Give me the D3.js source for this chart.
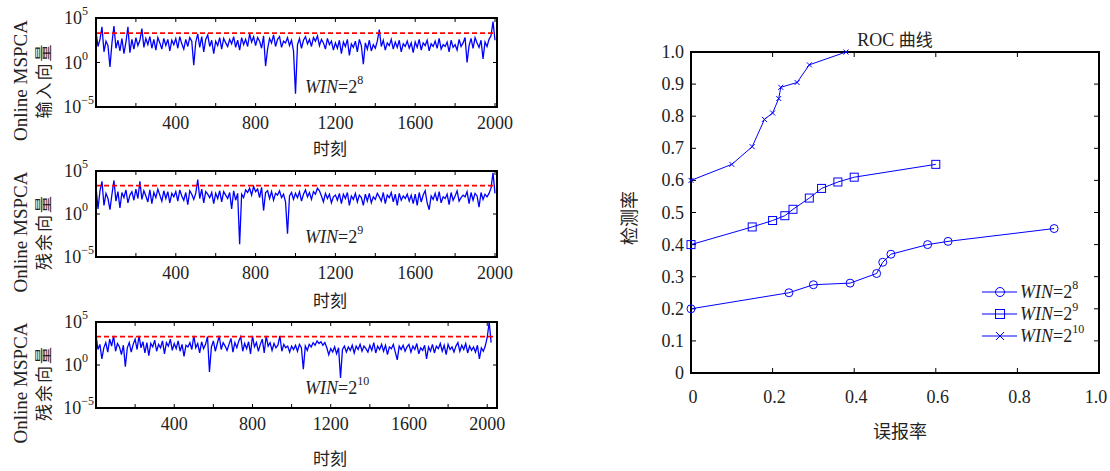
<!DOCTYPE html>
<html><head><meta charset="utf-8">
<script src="https://cdn.jsdelivr.net/npm/d3@7"></script>
<style>
body{margin:0;background:#fff;}
svg text{font-family:"Liberation Serif","Times New Roman","DejaVu Serif",serif;fill:#222;}
svg text.cjk, svg tspan.cjk{font-family:"Noto Sans CJK SC",sans-serif;}
</style></head><body>
<svg id="c" width="1110" height="471" font-family="Liberation Serif, serif"></svg>
<script>
// log10 values, one sample per 10 time steps
const input8 = [3.5,1.8,2.6,4.0,1.2,2.4,1.9,-0.5,2.2,4.1,1.6,2.5,1.3,2.7,1.0,2.3,4.0,1.1,2.6,1.5,
2.8,1.9,2.5,3.8,1.7,2.7,2.0,2.9,1.6,2.6,1.4,2.8,2.2,1.5,2.7,1.9,2.6,1.3,2.5,2.0,
2.7,1.6,2.9,2.1,1.5,2.6,1.8,2.8,2.4,-0.3,2.3,3.2,1.7,2.9,1.2,2.6,3.1,1.8,2.5,1.0,
2.4,1.9,2.8,1.5,2.7,2.2,1.8,2.6,2.1,2.9,1.7,2.5,1.4,2.8,2.0,2.6,1.8,3.2,2.3,2.9,
1.9,2.8,2.4,1.6,3.0,-0.4,1.5,2.7,2.2,3.1,1.8,2.6,2.9,1.7,2.4,2.2,2.8,1.9,2.5,1.3,
-3.5,2.0,2.7,1.6,2.5,2.9,2.1,2.6,1.8,2.8,2.4,3.0,1.9,2.6,2.2,1.5,2.7,2.0,2.4,1.4,
2.2,1.6,2.5,1.0,2.3,1.8,2.6,0.8,2.1,1.7,2.4,1.2,2.6,1.9,-0.2,2.2,1.5,2.5,1.3,2.0,
1.6,2.4,3.7,1.8,2.5,1.4,2.2,1.9,2.6,1.5,2.3,1.7,2.5,1.2,2.1,1.8,2.4,1.6,2.2,1.1,
2.3,1.7,2.6,1.4,2.2,1.9,2.5,1.3,2.1,1.8,2.4,1.6,2.7,1.5,2.0,1.8,2.3,1.2,2.5,1.7,
2.0,1.4,2.6,1.8,2.2,2.8,0.0,1.9,2.7,1.6,2.8,2.2,1.7,2.5,0.4,2.3,1.8,2.6,3.0,4.6,2.5];
const resid9 = [3.2,0.6,2.7,3.8,1.0,2.4,1.8,0.5,2.3,3.9,1.5,2.6,0.7,2.5,1.9,2.8,1.3,2.2,2.6,1.6,
2.9,1.8,3.8,1.7,2.7,2.1,1.4,2.8,1.2,2.5,1.9,2.9,2.2,1.5,2.7,1.8,2.6,1.3,2.4,2.0,
2.6,1.5,2.8,2.1,1.6,2.5,1.1,2.7,2.3,1.7,2.4,4.0,1.8,2.9,1.3,2.6,2.3,1.9,2.5,1.2,
2.4,1.8,2.7,1.4,2.6,2.2,1.8,2.5,0.6,2.7,1.6,2.4,-3.5,2.3,1.9,2.8,2.5,3.0,2.2,3.2,
2.6,2.9,1.9,3.1,0.4,2.5,2.7,1.8,2.6,1.6,2.4,2.2,2.7,1.9,2.3,1.4,-2.3,2.1,2.5,1.7,
2.4,1.9,2.6,1.5,2.3,2.8,2.0,2.5,1.7,2.6,2.3,3.0,2.7,2.1,1.4,2.4,1.8,2.3,1.3,2.0,
2.2,1.6,2.4,1.2,2.3,1.8,2.5,1.0,2.1,1.7,2.4,1.4,2.2,1.9,1.0,2.3,1.5,2.4,1.3,2.0,
1.7,2.4,2.0,1.5,2.5,1.2,2.2,1.9,2.5,1.4,2.3,1.0,2.4,1.6,2.1,1.8,2.3,1.5,2.2,1.2,
2.3,1.0,2.5,1.4,2.2,2.7,1.3,0.5,2.1,1.7,2.4,1.5,2.6,1.3,2.0,1.8,2.3,1.1,2.5,1.6,
2.1,2.7,1.5,1.9,2.2,2.0,2.6,1.2,2.5,1.6,2.4,2.1,0.8,2.5,1.7,2.3,2.0,2.4,3.0,4.8,2.4];
const resid10 = [3.5,1.8,2.4,0.7,2.0,2.6,1.5,3.0,2.2,3.4,1.6,2.5,2.1,1.2,2.3,-0.2,2.0,2.6,1.5,2.4,
3.0,1.8,3.4,2.0,2.7,1.4,2.6,1.1,2.5,2.1,2.9,1.6,2.4,2.0,2.8,1.3,2.6,2.2,3.0,1.7,
2.5,1.9,2.8,1.6,2.4,1.0,2.3,2.1,2.6,1.8,3.4,2.0,2.5,1.4,2.7,1.9,2.4,3.3,-0.8,2.1,
2.8,1.6,2.5,3.4,1.8,2.6,2.2,1.7,2.4,3.1,1.5,2.6,2.0,2.8,3.3,1.6,2.5,1.9,2.7,1.3,
3.4,2.1,2.6,1.6,2.4,3.0,1.4,3.4,2.2,2.6,1.7,2.5,2.0,2.3,3.4,1.6,2.4,2.0,2.2,1.5,
2.2,1.8,2.3,1.6,2.4,2.0,-0.5,2.2,1.7,2.4,2.1,2.6,2.3,2.8,2.5,2.7,2.3,2.6,2.0,1.2,
1.9,1.5,2.1,1.3,2.0,-1.5,1.8,2.2,1.5,2.1,1.7,2.3,1.4,2.2,1.8,2.4,1.6,2.2,1.9,1.5,
2.3,1.7,2.6,1.4,2.2,1.8,2.4,1.6,2.3,1.2,2.1,1.9,2.4,1.5,0.6,2.2,1.8,2.3,1.6,2.1,
2.4,1.5,2.2,1.8,2.5,1.3,2.0,1.7,2.3,0.7,2.1,1.6,2.4,1.4,2.2,1.9,2.5,1.6,2.3,1.2,
2.4,1.8,2.1,1.5,2.2,2.6,1.6,2.3,1.8,2.5,1.4,2.2,1.7,2.1,1.5,2.3,0.7,2.0,1.6,2.2,3.2,5.0,2.6];
const thresholdLog = [3.3, 3.3, 3.3];
const panelWins = ["8", "9", "10"];
const panelLabels = ["输入向量", "残余向量", "残余向量"];
const timeTicks = [400, 800, 1200, 1600, 2000];

const fpr8 = [0, 0.24, 0.30, 0.39, 0.455, 0.47, 0.49, 0.58, 0.63, 0.89];
const tpr8 = [0.20, 0.25, 0.275, 0.28, 0.31, 0.345, 0.37, 0.40, 0.41, 0.45];
const fpr9 = [0, 0.15, 0.20, 0.23, 0.25, 0.29, 0.32, 0.36, 0.40, 0.60];
const tpr9 = [0.40, 0.455, 0.475, 0.49, 0.51, 0.545, 0.575, 0.595, 0.61, 0.65];
const fpr10 = [0, 0.10, 0.15, 0.18, 0.20, 0.215, 0.22, 0.26, 0.29, 0.38];
const tpr10 = [0.60, 0.65, 0.705, 0.79, 0.81, 0.855, 0.89, 0.905, 0.96, 1.0];

const svg = d3.select("#c");
const blue = "#0000ff";

const panels = [
  {data: input8, top: 18, bottom: 107, xmax: 2010, xlab: 148},
  {data: resid9, top: 171, bottom: 257, xmax: 2010, xlab: 300},
  {data: resid10, top: 322, bottom: 408, xmax: 2050, xlab: 458}
];
const L = 96, R = 497;
panels.forEach((p, k) => {
  const x = d3.scaleLinear().domain([0, p.xmax]).range([L, R]);
  const y = d3.scaleLinear().domain([-5, 5]).range([p.bottom, p.top]);
  const g = svg.append("g");
  const line = d3.line().x((d, i) => x(i * 10)).y(d => y(d));
  g.append("path").datum(p.data).attr("d", line).attr("fill", "none")
    .attr("stroke", blue).attr("stroke-width", 1.3);
  g.append("line").attr("x1", L).attr("x2", R)
    .attr("y1", y(thresholdLog[k])).attr("y2", y(thresholdLog[k]))
    .attr("stroke", "#ff0000").attr("stroke-width", 1.8).attr("stroke-dasharray", "5,3");
  d3.range(200, p.xmax, 200).forEach(t => {
    g.append("line").attr("x1", x(t)).attr("x2", x(t)).attr("y1", p.bottom).attr("y2", p.bottom - 4).attr("stroke", "#000");
    g.append("line").attr("x1", x(t)).attr("x2", x(t)).attr("y1", p.top).attr("y2", p.top + 4).attr("stroke", "#000");
  });
  [-5, 0, 5].forEach(v => {
    g.append("line").attr("x1", L).attr("x2", L + 4).attr("y1", y(v)).attr("y2", y(v)).attr("stroke", "#000");
    g.append("line").attr("x1", R).attr("x2", R - 4).attr("y1", y(v)).attr("y2", y(v)).attr("stroke", "#000");
    const t = g.append("text").attr("x", v === -5 ? L - 2 : L - 8).attr("y", y(v) + 6).attr("text-anchor", "end").attr("font-size", 18).text("10");
    t.append("tspan").attr("dy", -9).attr("font-size", 12).text(v === -5 ? "−5" : v);
  });
  g.append("rect").attr("x", L).attr("y", p.top).attr("width", R - L).attr("height", p.bottom - p.top)
    .attr("fill", "none").attr("stroke", "#000").attr("stroke-width", 2);
  timeTicks.forEach(t => {
    g.append("text").attr("x", x(t)).attr("y", p.bottom + 22).attr("text-anchor", "middle").attr("font-size", 18).text(t);
  });
  g.append("text").attr("class", "cjk").attr("x", 330).attr("y", p.xlab + 7).attr("text-anchor", "middle").attr("font-size", 17).text("时刻");
  const w = g.append("text").attr("x", 305).attr("y", p.bottom - 14).attr("font-size", 18);
  w.append("tspan").attr("font-style", "italic").text("WIN");
  w.append("tspan").text("=2");
  w.append("tspan").attr("dy", -9).attr("font-size", 12).text(panelWins[k]);
  const cy = (p.top + p.bottom) / 2 + 18;
  g.append("text").attr("transform", `translate(27,${cy}) rotate(-90)`).attr("text-anchor", "middle").attr("font-size", 19).text("Online MSPCA");
  g.append("text").attr("class", "cjk").attr("transform", `translate(50,${cy}) rotate(-90)`).attr("text-anchor", "middle").attr("font-size", 17).attr("letter-spacing", 2).text(panelLabels[k]);
});

// ROC
const rx = d3.scaleLinear().domain([0, 1]).range([691, 1099]);
const ry = d3.scaleLinear().domain([0, 1]).range([373, 52]);
const rg = svg.append("g");
d3.range(0, 1.01, 0.1).forEach(v => {
  rg.append("line").attr("x1", 691).attr("x2", 696).attr("y1", ry(v)).attr("y2", ry(v)).attr("stroke", "#000");
  rg.append("line").attr("x1", 1099).attr("x2", 1094).attr("y1", ry(v)).attr("y2", ry(v)).attr("stroke", "#000");
  rg.append("text").attr("x", 684).attr("y", ry(v) + 6).attr("text-anchor", "end").attr("font-size", 18)
    .text(v === 0 ? "0" : v.toFixed(1));
});
[0, 0.2, 0.4, 0.6, 0.8, 1.0].forEach(v => {
  rg.append("line").attr("x1", rx(v)).attr("x2", rx(v)).attr("y1", 373).attr("y2", 368).attr("stroke", "#000");
  rg.append("line").attr("x1", rx(v)).attr("x2", rx(v)).attr("y1", 52).attr("y2", 57).attr("stroke", "#000");
  rg.append("text").attr("x", v === 1 ? rx(v) - 3 : rx(v) + 2).attr("y", 403).attr("text-anchor", "middle").attr("font-size", 18)
    .text(v === 0 ? "0" : v.toFixed(1));
});
rg.append("rect").attr("x", 691).attr("y", 52).attr("width", 408).attr("height", 321)
  .attr("fill", "none").attr("stroke", "#000").attr("stroke-width", 2);
const title = rg.append("text").attr("x", 895).attr("y", 46).attr("text-anchor", "middle").attr("font-size", 18);
title.append("tspan").text("ROC ");
title.append("tspan").attr("class", "cjk").attr("font-size", 17).text("曲线");
rg.append("text").attr("class", "cjk").attr("x", 900).attr("y", 438).attr("text-anchor", "middle").attr("font-size", 18).text("误报率");
rg.append("text").attr("class", "cjk").attr("transform", "translate(636,218) rotate(-90)").attr("text-anchor", "middle").attr("font-size", 18).text("检测率");

const series = [
  {fx: fpr8, ty: tpr8, m: "o", w: "8"},
  {fx: fpr9, ty: tpr9, m: "s", w: "9"},
  {fx: fpr10, ty: tpr10, m: "x", w: "10"}
];
function marker(g, cx, cy, m, big) {
  const r = big ? 4.5 : 4;
  if (m === "o") g.append("circle").attr("cx", cx).attr("cy", cy).attr("r", r).attr("fill", "none").attr("stroke", blue);
  else if (m === "s") g.append("rect").attr("x", cx - r).attr("y", cy - r).attr("width", 2 * r).attr("height", 2 * r).attr("fill", "none").attr("stroke", blue);
  else {
    const q = big ? 4 : 2.5;
    g.append("path").attr("d", `M${cx - q},${cy - q}L${cx + q},${cy + q}M${cx - q},${cy + q}L${cx + q},${cy - q}`).attr("stroke", blue);
  }
}
series.forEach((s, k) => {
  const pts = s.fx.map((v, i) => [rx(v), ry(s.ty[i])]);
  rg.append("path").attr("d", d3.line()(pts)).attr("fill", "none").attr("stroke", blue).attr("stroke-width", 1);
  pts.forEach(p => marker(rg, p[0], p[1], s.m, false));
  const ly = 292 + k * 22;
  rg.append("line").attr("x1", 982).attr("x2", 1017).attr("y1", ly).attr("y2", ly).attr("stroke", blue);
  marker(rg, 1000, ly, s.m, true);
  const t = rg.append("text").attr("x", 1020).attr("y", ly + 6).attr("font-size", 18);
  t.append("tspan").attr("font-style", "italic").text("WIN");
  t.append("tspan").text("=2");
  t.append("tspan").attr("dy", -9).attr("font-size", 12).text(s.w);
});
</script>
</body></html>
